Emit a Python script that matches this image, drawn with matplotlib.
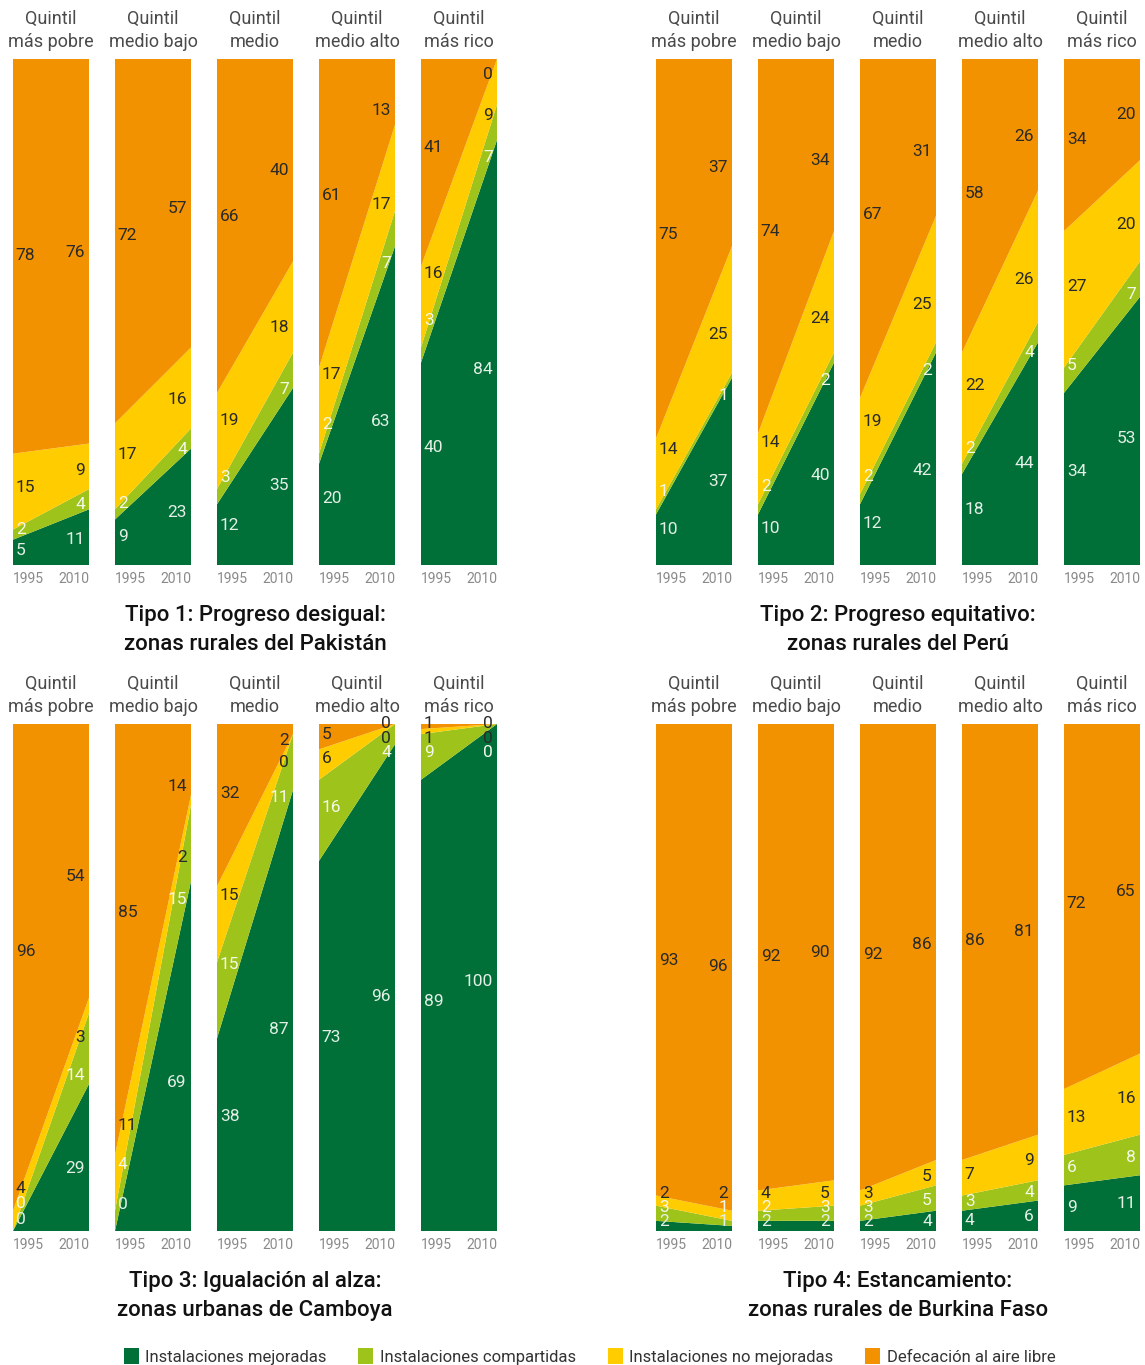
import matplotlib
matplotlib.use("Agg")
import matplotlib.pyplot as plt
import matplotlib.patches as mpatches
import numpy as np

plt.rcParams["font.family"] = ["Roboto", "DejaVu Sans"]

# ---------------------------------------------------------------------------
# Data (percent of population, 1995 and 2010, one pair per quintile)
# ---------------------------------------------------------------------------

YEARS = [1995, 2010]
QUINTILES = ["Quintil\nmás pobre", "Quintil\nmedio bajo", "Quintil\nmedio",
             "Quintil\nmedio alto", "Quintil\nmás rico"]
CATEGORIES = ["Instalaciones mejoradas", "Instalaciones compartidas",
              "Instalaciones no mejoradas", "Defecación al aire libre"]
COLORS = ["#007038", "#9EC31A", "#FFCC00", "#F39200"]
LABEL_COLORS = ["#E4EFE6", "#F4F8E8", "#2A2A2A", "#2A2A2A"]

# Tipo 1: Pakistán rural
pak_mejoradas   = [[5, 11], [9, 23], [12, 35], [20, 63], [40, 84]]
pak_compartidas = [[2, 4], [2, 4], [3, 7], [2, 7], [3, 7]]
pak_no_mejorad  = [[15, 9], [17, 16], [19, 18], [17, 17], [16, 9]]
pak_aire_libre  = [[78, 76], [72, 57], [66, 40], [61, 13], [41, 0]]

# Tipo 2: Perú rural
per_mejoradas   = [[10, 37], [10, 40], [12, 42], [18, 44], [34, 53]]
per_compartidas = [[1, 1], [2, 2], [2, 2], [2, 4], [5, 7]]
per_no_mejorad  = [[14, 25], [14, 24], [19, 25], [22, 26], [27, 20]]
per_aire_libre  = [[75, 37], [74, 34], [67, 31], [58, 26], [34, 20]]

# Tipo 3: Camboya urbana
cam_mejoradas   = [[0, 29], [0, 69], [38, 87], [73, 96], [89, 100]]
cam_compartidas = [[0, 14], [4, 15], [15, 11], [16, 4], [9, 0]]
cam_no_mejorad  = [[4, 3], [11, 2], [15, 0], [6, 0], [1, 0]]
cam_aire_libre  = [[96, 54], [85, 14], [32, 2], [5, 0], [1, 0]]

# Tipo 4: Burkina Faso rural
bfa_mejoradas   = [[2, 1], [2, 2], [2, 4], [4, 6], [9, 11]]
bfa_compartidas = [[3, 1], [2, 3], [3, 5], [3, 4], [6, 8]]
bfa_no_mejorad  = [[2, 2], [4, 5], [3, 5], [7, 9], [13, 16]]
bfa_aire_libre  = [[93, 96], [92, 90], [92, 86], [86, 81], [72, 65]]

PANELS = [
    ("Tipo 1: Progreso desigual:\nzonas rurales del Pakistán",
     [pak_mejoradas, pak_compartidas, pak_no_mejorad, pak_aire_libre]),
    ("Tipo 2: Progreso equitativo:\nzonas rurales del Perú",
     [per_mejoradas, per_compartidas, per_no_mejorad, per_aire_libre]),
    ("Tipo 3: Igualación al alza:\nzonas urbanas de Camboya",
     [cam_mejoradas, cam_compartidas, cam_no_mejorad, cam_aire_libre]),
    ("Tipo 4: Estancamiento:\nzonas rurales de Burkina Faso",
     [bfa_mejoradas, bfa_compartidas, bfa_no_mejorad, bfa_aire_libre]),
]

# ---------------------------------------------------------------------------
# Layout (pixels of a 1145 x 1365 canvas)
# ---------------------------------------------------------------------------

W, H = 1145, 1365
PANEL_X0 = [13, 656, 13, 656]
ROW_Y = [(59, 565), (59, 565), (724, 1231), (724, 1231)]
BAR_W, BAR_STEP = 76, 102
SEP = 2.8      # min vertical gap between labels (percent units)
INSET = 0.15   # where along the bar labels are measured


def label_positions(vals):
    """Mid of each stacked segment, spread apart so labels do not pile up."""
    lo = np.cumsum([0] + vals[:-1])
    ys = list(lo + np.array(vals) / 2.0)
    ys[0] = max(ys[0], 1.8)
    for i in range(1, len(ys)):
        ys[i] = max(ys[i], ys[i - 1] + SEP)
    ys[-1] = min(ys[-1], 100.0)
    for i in range(len(ys) - 2, -1, -1):
        ys[i] = min(ys[i], ys[i + 1] - SEP)
    return ys


def interp_vals(series, q, t):
    return [s[q][0] + (s[q][1] - s[q][0]) * t for s in series]


fig = plt.figure(figsize=(W / 100, H / 100), dpi=100)
fig.patch.set_facecolor("white")

for p, (title, series) in enumerate(PANELS):
    top, bot = ROW_Y[p]
    for q in range(5):
        x0 = PANEL_X0[p] + q * BAR_STEP
        ax = fig.add_axes([x0 / W, (H - bot) / H, BAR_W / W, (bot - top) / H])
        ax.stackplot(YEARS, *[np.array(s[q]) for s in series],
                     colors=COLORS, linewidth=0)
        ax.set_xlim(1995, 2010)
        ax.set_ylim(0, 100)
        for sp in ax.spines.values():
            sp.set_visible(False)
        ax.set_yticks([])
        ax.set_xticks(YEARS)
        ax.set_xticklabels(["1995", "2010"], fontsize=10, color="#8a8a8a")
        ax.tick_params(axis="x", length=0, pad=5)
        ax.get_xticklabels()[0].set_ha("left")
        ax.get_xticklabels()[1].set_ha("right")

        ax.annotate(QUINTILES[q], xy=(0.5, 1.0), xycoords="axes fraction",
                    xytext=(0, 6), textcoords="offset points",
                    ha="center", va="bottom", fontsize=13, color="#4a4a4a",
                    linespacing=1.32)

        # value labels: 1995 on the left, 2010 on the right
        for yi, (t, ha, dx) in enumerate([(INSET, "left", 2), (1 - INSET, "right", -3)]):
            ys = label_positions(interp_vals(series, q, t))
            for c, s in enumerate(series):
                ax.annotate(str(s[q][yi]), xy=(YEARS[yi], ys[c]),
                            xytext=(dx, 0), textcoords="offset points",
                            ha=ha, va="center", fontsize=12.5,
                            color=LABEL_COLORS[c])

    cx = (PANEL_X0[p] + 2 * BAR_STEP + BAR_W / 2) / W
    ty = (bot + 65) / H
    fig.text(cx, 1 - ty, title, ha="center", va="center", fontsize=16,
             fontweight="medium", color="#111111", linespacing=1.45)

handles = [mpatches.Patch(facecolor=c, label=l) for c, l in zip(COLORS, CATEGORIES)]
fig.legend(handles=handles, loc="lower center", bbox_to_anchor=(0.515, -0.011),
           ncol=4, frameon=False, fontsize=12, handlelength=0.9, handleheight=1.1,
           handletextpad=0.4, columnspacing=1.9, labelcolor="#333333")

fig.savefig("out.png", dpi=100, facecolor="white")
